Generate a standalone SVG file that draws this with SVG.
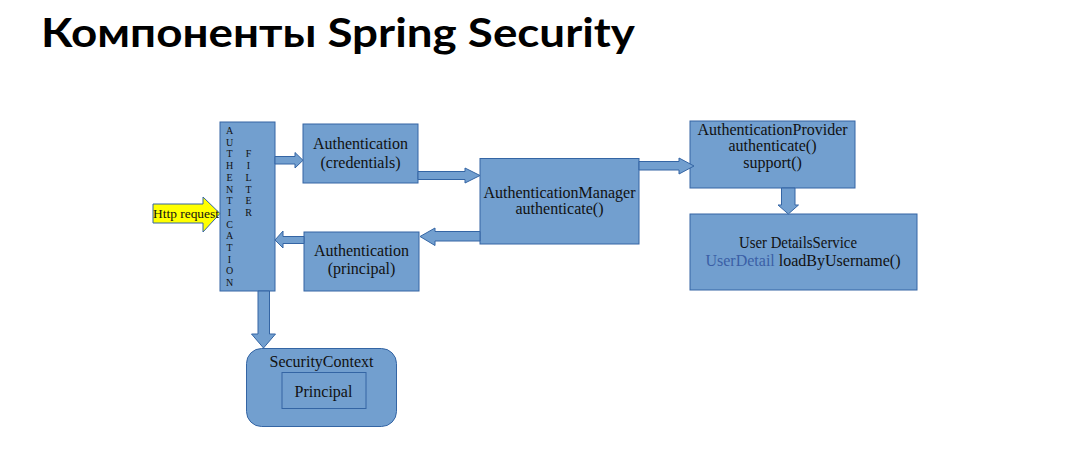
<svg xmlns="http://www.w3.org/2000/svg" width="1078" height="473" viewBox="0 0 1078 473">
<style>
.box{fill:#729fcf;stroke:#3465a4;stroke-width:1}
.arr{fill:#729fcf;stroke:#3465a4;stroke-width:1;stroke-linejoin:miter}
.t{font-family:"Liberation Serif","Times New Roman",serif;font-size:16px;fill:#111;text-anchor:middle}
.v{font-family:"Liberation Serif","Times New Roman",serif;font-size:10px;fill:#111;text-anchor:middle}
.title{font-family:Lato,"Noto Sans","Liberation Sans",sans-serif;font-weight:700;font-size:40px;fill:#000}
</style>
<rect width="1078" height="473" fill="#fff"/>
<text class="title" x="41" y="47" textLength="594" lengthAdjust="spacingAndGlyphs">Компоненты Spring Security</text>

<g id="filter">
<rect class="box" x="220" y="122" width="55" height="169"/>
<text class="v" x="229.5"><tspan x="229.5" y="134">A</tspan><tspan x="229.5" y="145.7">U</tspan><tspan x="229.5" y="157.4">T</tspan><tspan x="229.5" y="169.1">H</tspan><tspan x="229.5" y="180.8">E</tspan><tspan x="229.5" y="192.5">N</tspan><tspan x="229.5" y="204.2">T</tspan><tspan x="229.5" y="215.9">I</tspan><tspan x="229.5" y="227.6">C</tspan><tspan x="229.5" y="239.3">A</tspan><tspan x="229.5" y="251">T</tspan><tspan x="229.5" y="262.7">I</tspan><tspan x="229.5" y="274.4">O</tspan><tspan x="229.5" y="286.1">N</tspan></text>
<text class="v" x="248.5"><tspan x="248.5" y="157.4">F</tspan><tspan x="248.5" y="169.1">I</tspan><tspan x="248.5" y="180.8">L</tspan><tspan x="248.5" y="192.5">T</tspan><tspan x="248.5" y="204.2">E</tspan><tspan x="248.5" y="215.9">R</tspan></text>
</g>

<g id="auth-credentials">
<rect class="box" x="303" y="124" width="115" height="59"/>
<text class="t" x="360.5" y="149">Authentication</text>
<text class="t" x="360.5" y="167.5">(credentials)</text>
</g>

<g id="auth-principal">
<rect class="box" x="304" y="232" width="115" height="59"/>
<text class="t" x="361.5" y="256">Authentication</text>
<text class="t" x="361.5" y="274">(principal)</text>
</g>

<g id="auth-manager">
<rect class="box" x="480" y="158.5" width="159" height="85.5"/>
<text class="t" x="559.5" y="197.5">AuthenticationManager</text>
<text class="t" x="559.5" y="214">authenticate()</text>
</g>

<g id="auth-provider">
<rect class="box" x="690" y="121" width="165" height="67"/>
<text class="t" x="772.5" y="135">AuthenticationProvider</text>
<text class="t" x="772.5" y="151">authenticate()</text>
<text class="t" x="772.5" y="168">support()</text>
</g>

<g id="user-details-service">
<rect class="box" x="690" y="214" width="227" height="76"/>
<text class="t" x="798" y="248" textLength="118" lengthAdjust="spacingAndGlyphs">User DetailsService</text>
<text class="t" x="803" y="266"><tspan fill="#3b5fa6">UserDetail</tspan> loadByUsername()</text>
</g>

<g id="security-context">
<rect class="box" x="246.5" y="348.5" width="150" height="78" rx="15" ry="15"/>
<text class="t" x="321.5" y="367">SecurityContext</text>
<rect class="box" x="282" y="372.5" width="84" height="36"/>
<text class="t" x="323.5" y="397">Principal</text>
</g>

<g id="connectors">
<polygon class="arr" points="275,156.5 295,156.5 295,152.5 303,160.3 295,168 295,164 275,164"/>
<polygon class="arr" points="418,171.5 465,171.5 465,168 480,175.5 465,183 465,179.5 418,179.5"/>
<polygon class="arr" points="639,161.5 679,161.5 679,158 694,166 679,174 679,170 639,170"/>
<polygon class="arr" points="480,231.5 435,231.5 435,228 420,236.5 435,245.5 435,241 480,241"/>
<polygon class="arr" points="304,236.5 283,236.5 283,231 275,240 283,248 283,243.5 304,243.5"/>
<polygon class="arr" points="781.5,188 795,188 795,205 798.5,205 788.3,214 778,205 781.5,205"/>
<polygon class="arr" points="258,291 269.5,291 269.5,334 275.5,334 263.5,348 251.5,334 258,334"/>
</g>

<g id="http-request">
<polygon points="153,204 203,204 203,197 220,213.5 203,232 203,223 153,223" fill="#ffff00" stroke="#3465a4" stroke-width="1"/>
<text x="153" y="217.5" font-family="'Liberation Serif','Times New Roman',serif" font-size="12" fill="#111" textLength="66" lengthAdjust="spacingAndGlyphs">Http request</text>
</g>
</svg>
